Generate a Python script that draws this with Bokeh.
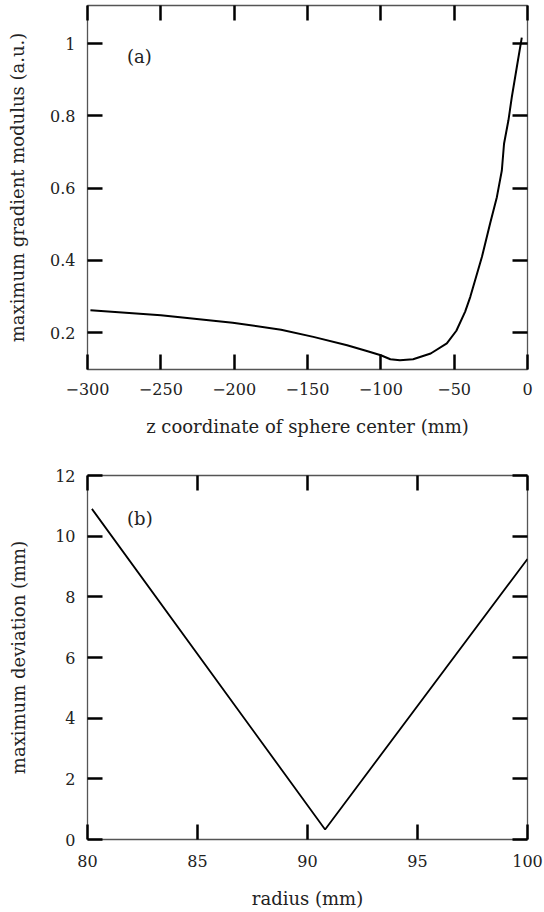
from bokeh.plotting import figure
from bokeh.layouts import column
from bokeh.models import LinearAxis, FixedTicker, Range1d, Label, CustomLabelingPolicy
from bokeh.embed import file_html
from bokeh.resources import INLINE

# ---- data (a) ----
z_a = [-298, -250, -201, -168, -146, -123, -109, -100, -93.5, -87, -78, -66,
       -55, -48.5, -42.5, -39, -31.1, -25.5, -20.9, -17.5, -16.0, -13.0, -10.7, -7.3, -3.9]
g_a = [0.262, 0.248, 0.227, 0.208, 0.188, 0.165, 0.148, 0.137, 0.126, 0.123,
       0.126, 0.142, 0.170, 0.205, 0.258, 0.299, 0.409, 0.502, 0.575, 0.649, 0.723,
       0.788, 0.852, 0.935, 1.017]
x_ticks_a = [-300, -250, -200, -150, -100, -50, 0]
x_labels_a = ["\u2212300", "\u2212250", "\u2212200", "\u2212150", "\u2212100", "\u221250", "0"]
y_ticks_a = [0.2, 0.4, 0.6, 0.8, 1]
y_labels_a = ["0.2", "0.4", "0.6", "0.8", "1"]

# ---- data (b) ----
r_b = [80.2, 90.8, 100.0]
d_b = [10.9, 0.33, 9.25]
x_ticks_b = [80, 85, 90, 95, 100]
x_labels_b = ["80", "85", "90", "95", "100"]
y_ticks_b = [0, 2, 4, 6, 8, 10, 12]
y_labels_b = ["0", "2", "4", "6", "8", "10", "12"]

FONT = "DejaVu Serif"
FS = "16px"
FS_LABEL = "18px"

hide_all = CustomLabelingPolicy(code="""
const a = [...indices]
for (const i of a) indices.unset(i)
return indices
""")


def style_axis(ax, ticks, labels, show_labels=True, standoff=13):
    ax.ticker = FixedTicker(ticks=ticks)
    ax.axis_line_color = None
    ax.major_tick_in = 15
    ax.major_tick_out = 0
    ax.major_tick_line_width = 2.5
    ax.major_tick_line_color = "black"
    ax.minor_tick_line_color = None
    ax.major_label_text_font = FONT
    ax.axis_label_text_font = FONT
    ax.axis_label_text_font_style = "normal"
    ax.axis_label_text_font_size = FS_LABEL
    ax.axis_label_text_color = "#222222"
    ax.major_label_text_color = "#222222"
    if show_labels:
        ax.major_label_text_font_size = FS
        ax.major_label_overrides = {t: l for t, l in zip(ticks, labels)}
        ax.major_label_standoff = standoff
    else:
        ax.major_label_text_font_size = "0px"
        ax.major_label_policy = hide_all
        ax.major_label_standoff = 0


def make_fig(width, height, xr, yr, top, bottom):
    p = figure(width=width, height=height, x_range=Range1d(*xr), y_range=Range1d(*yr),
               output_backend="svg", toolbar_location=None, tools="",
               min_border_left=87, min_border_right=17,
               min_border_top=top, min_border_bottom=bottom,
               x_axis_location=None, y_axis_location=None)
    p.grid.visible = False
    p.outline_line_color = "#555555"
    p.outline_line_width = 1.3
    p.background_fill_color = "white"
    p.border_fill_color = "white"
    return p


# ---- figure (a) ----
pa = make_fig(544, 450, (-300, 0), (0.0976, 1.106), 5, 81)
for loc, show in (("below", True), ("left", True), ("above", False), ("right", False)):
    ax = LinearAxis()
    if loc in ("below", "above"):
        style_axis(ax, x_ticks_a, x_labels_a, show, standoff=13)
    else:
        style_axis(ax, y_ticks_a, y_labels_a, show, standoff=12)
    if loc == "below":
        ax.axis_label = "z coordinate of sphere center (mm)"
        ax.axis_label_standoff = 18
    if loc == "left":
        ax.axis_label = "maximum gradient modulus (a.u.)"
        ax.axis_label_standoff = 19
    pa.add_layout(ax, loc)
pa.line(z_a, g_a, line_color="black", line_width=2)
pa.add_layout(Label(x=-273, y=0.965, text="(a)", text_font=FONT, text_font_size=FS_LABEL,
                    text_baseline="middle", text_color="#222222"))

# ---- figure (b) ----
pb = make_fig(544, 462, (80, 100), (0, 12), 25, 73)
for loc, show in (("below", True), ("left", True), ("above", False), ("right", False)):
    ax = LinearAxis()
    if loc in ("below", "above"):
        style_axis(ax, x_ticks_b, x_labels_b, show, standoff=15)
    else:
        style_axis(ax, y_ticks_b, y_labels_b, show, standoff=12)
    if loc == "below":
        ax.axis_label = "radius (mm)"
        ax.axis_label_standoff = 18
    if loc == "left":
        ax.axis_label = "maximum deviation (mm)"
        ax.axis_label_standoff = 23
    pb.add_layout(ax, loc)
pb.line(r_b, d_b, line_color="black", line_width=1.8)
pb.add_layout(Label(x=81.8, y=10.57, text="(b)", text_font=FONT, text_font_size=FS_LABEL,
                    text_baseline="middle", text_color="#222222"))

layout = column(pa, pb, spacing=0)
open("out.html", "w").write(file_html(layout, INLINE))
